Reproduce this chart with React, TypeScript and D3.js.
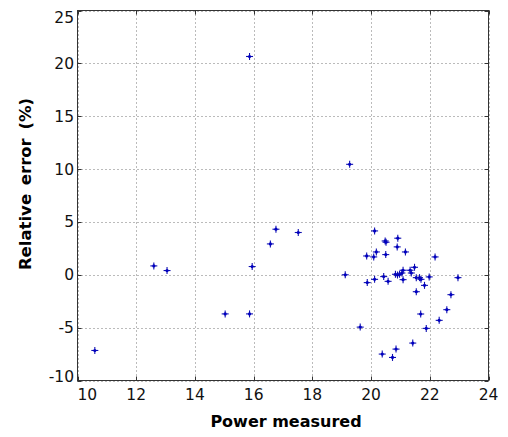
import React from "react";
import * as d3 from "d3";

const powerMeasured: number[] = [
  10.59, 12.6, 13.05, 15.03, 15.86, 15.86, 15.95, 16.57, 16.76, 17.52,
  19.27, 19.12, 19.63, 20.12, 20.48, 20.51, 20.91, 20.89, 21.17, 20.18,
  19.85, 20.09, 20.5, 22.18, 19.87, 20.12, 20.43, 20.58, 20.83, 20.9,
  20.97, 21.05, 21.09, 21.09, 21.33, 21.37, 21.48, 21.54, 21.65, 21.7,
  21.54, 21.82, 21.98, 22.96, 22.72, 22.58, 21.69, 22.32, 21.88, 21.42,
  20.85, 20.38, 20.73,
];
const relativeError: number[] = [
  -7.16, 0.84, 0.4, -3.7, -3.7, 20.65, 0.78, 2.92, 4.31, 4.0,
  10.45, 0.0, -4.95, 4.15, 3.2, 3.08, 3.46, 2.64, 2.16, 2.16,
  1.78, 1.69, 1.91, 1.69, -0.74, -0.43, -0.17, -0.62, 0.05, -0.02,
  0.05, 0.17, 0.43, -0.46, 0.43, 0.17, 0.71, -0.27, -0.27, -0.43,
  -1.6, -1.0, -0.2, -0.27, -1.88, -3.3, -3.71, -4.31, -5.07, -6.46,
  -7.03, -7.5, -7.82,
];
const xTicks: number[] = [10, 12, 14, 16, 18, 20, 22, 24];
const yTicks: number[] = [-10, -5, 0, 5, 10, 15, 20, 25];

const W = 508;
const H = 437;
const L = 77.5, R = 488.5, T = 10.5, B = 380.5;

export default function App() {
  const x = d3.scaleLinear().domain([10, 24]).range([L, R]);
  const y = d3.scaleLinear().domain([-10, 25]).range([B, T]);
  const font = "DejaVu Sans, sans-serif";
  const pts = powerMeasured.map((p, i) => [p, relativeError[i]] as [number, number]);
  return (
    <svg width={W} height={H} style={{ position: "absolute", left: 0, top: 0, background: "#fff" }}>
      <rect x={0} y={0} width={W} height={H} fill="#fff" />
      {xTicks.map((t) => (
        <line key={"gx" + t} x1={Math.round(x(t)) + 0.5} x2={Math.round(x(t)) + 0.5} y1={T} y2={B}
          stroke="#777" strokeWidth={1} strokeDasharray="1,3" />
      ))}
      {yTicks.map((t) => (
        <line key={"gy" + t} x1={L} x2={R} y1={Math.round(y(t)) + 0.5} y2={Math.round(y(t)) + 0.5}
          stroke="#777" strokeWidth={1} strokeDasharray="1,3" />
      ))}
      <rect x={L} y={T} width={R - L} height={B - T} fill="none" stroke="#333" strokeWidth={1} />
      {xTicks.map((t, i) => (
        <g key={"tx" + t}>
          <line x1={Math.round(x(t)) + 0.5} x2={Math.round(x(t)) + 0.5} y1={B} y2={B - 4} stroke="#333" />
          <line x1={Math.round(x(t)) + 0.5} x2={Math.round(x(t)) + 0.5} y1={T} y2={T + 4} stroke="#333" />
          <text x={x(t)} y={400} fontFamily={font} fontSize={15.5}
            textAnchor={i === 0 ? "start" : "middle"} fill="#111">{t}</text>
        </g>
      ))}
      {yTicks.map((t, i) => {
        const off = i === yTicks.length - 1 ? 7 : i === 0 ? -4 : 0;
        return (
          <g key={"ty" + t}>
            <line x1={L} x2={L + 4} y1={Math.round(y(t)) + 0.5} y2={Math.round(y(t)) + 0.5} stroke="#333" />
            <line x1={R} x2={R - 4} y1={Math.round(y(t)) + 0.5} y2={Math.round(y(t)) + 0.5} stroke="#333" />
            <text x={74} y={y(t) + 5.5 + off} fontFamily={font} fontSize={15.5} textAnchor="end" fill="#111">{t}</text>
          </g>
        );
      })}
      {pts.map(([px, py], i) => {
        const cx = x(px), cy = y(py);
        return (
          <g key={"p" + i}>
            <line x1={cx - 3.5} x2={cx + 3.5} y1={cy} y2={cy} stroke="#1010b0" strokeWidth={1.1} />
            <line x1={cx} x2={cx} y1={cy - 3.5} y2={cy + 3.5} stroke="#1010b0" strokeWidth={1.1} />
            <circle cx={cx} cy={cy} r={1.6} fill="#0000c0" />
          </g>
        );
      })}
      <text x={286} y={427} fontFamily={font} fontSize={16} fontWeight="bold" textAnchor="middle" fill="#000">
        Power measured
      </text>
      <text transform={`translate(31,184) rotate(-90)`} fontFamily={font} fontSize={16.5} fontWeight="bold"
        textAnchor="middle" fill="#000" wordSpacing={3}>
        Relative error (%)
      </text>
    </svg>
  );
}
